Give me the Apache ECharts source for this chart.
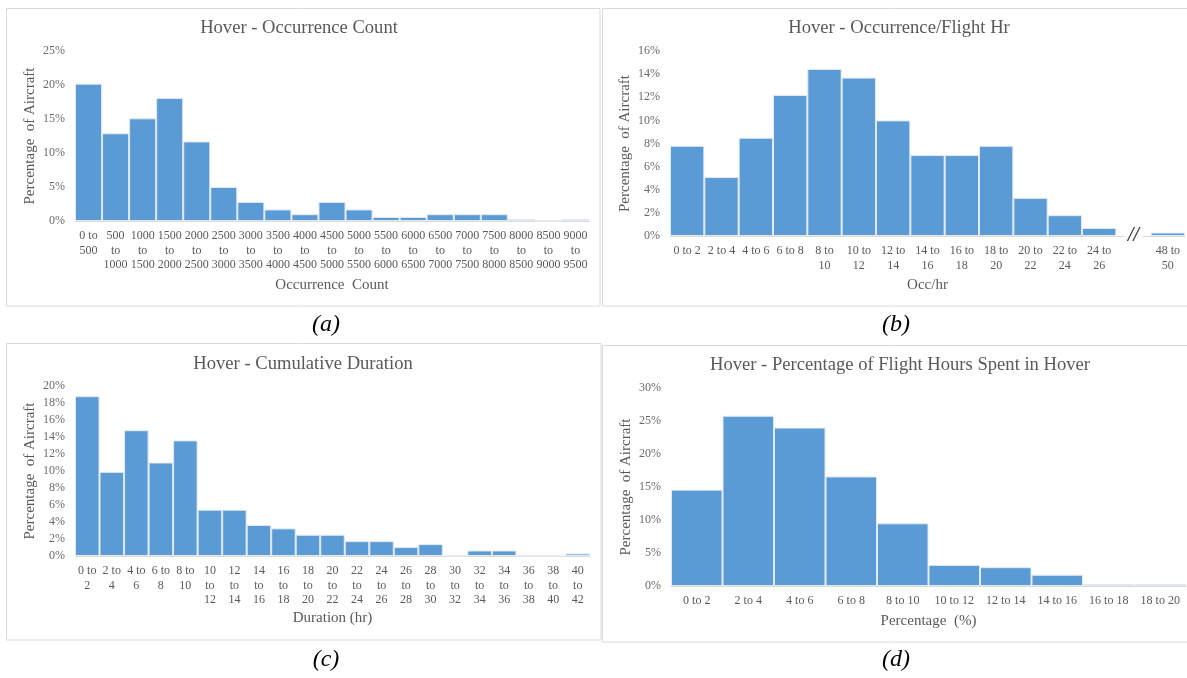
<!DOCTYPE html>
<html>
<head>
<meta charset="utf-8">
<script src="https://cdn.jsdelivr.net/npm/echarts@6/dist/echarts.min.js"></script>
<style>
  html, body { margin: 0; padding: 0; background: #fff; }
  #chart { width: 1187px; height: 678px; }
</style>
</head>
<body>
<div id="chart"></div>
<script>
// (a) occurrence count
var occCountCats = ['0 to\n500', '500\nto\n1000', '1000\nto\n1500', '1500\nto\n2000', '2000\nto\n2500',
  '2500\nto\n3000', '3000\nto\n3500', '3500\nto\n4000', '4000\nto\n4500', '4500\nto\n5000',
  '5000\nto\n5500', '5500\nto\n6000', '6000\nto\n6500', '6500\nto\n7000', '7000\nto\n7500',
  '7500\nto\n8000', '8000\nto\n8500', '8500\nto\n9000', '9000\nto\n9500'];
var occCountVals = [20.2, 12.9, 15.1, 18.1, 11.7, 5.0, 2.8, 1.7, 1.0, 2.8, 1.7, 0.6, 0.6, 1.0, 1.0, 1.0, 0.3, 0, 0.3];

// (b) occurrence per flight hour ('' = axis break slot)
var occRateCats = ['0 to 2', '2 to 4', '4 to 6', '6 to 8', '8 to\n10', '10 to\n12', '12 to\n14', '14 to\n16',
  '16 to\n18', '18 to\n20', '20 to\n22', '22 to\n24', '24 to\n26', '', '48 to\n50'];
var occRateVals = [7.8, 5.1, 8.5, 12.2, 14.45, 13.7, 10.0, 7.0, 7.0, 7.8, 3.3, 1.8, 0.7, '-', 0.3];
var breakSlot = 13;

// (c) cumulative duration
var durCats = ['0 to\n2', '2 to\n4', '4 to\n6', '6 to\n8', '8 to\n10', '10\nto\n12', '12\nto\n14', '14\nto\n16',
  '16\nto\n18', '18\nto\n20', '20\nto\n22', '22\nto\n24', '24\nto\n26', '26\nto\n28', '28\nto\n30',
  '30\nto\n32', '32\nto\n34', '34\nto\n36', '36\nto\n38', '38\nto\n40', '40\nto\n42'];
var durVals = [18.8, 9.9, 14.8, 11.0, 13.6, 5.45, 5.45, 3.65, 3.25, 2.5, 2.5, 1.75, 1.75, 1.05, 1.4, 0, 0.65, 0.65, 0, 0, 0.3];

// (d) percentage of flight hours in hover
var pctCats = ['0 to 2', '2 to 4', '4 to 6', '6 to 8', '8 to 10', '10 to 12', '12 to 14', '14 to 16', '16 to 18', '18 to 20'];
var pctVals = [14.6, 25.8, 24.0, 16.6, 9.5, 3.2, 2.85, 1.7, 0.25, 0.25];

var titles = ['Hover - Occurrence Count', 'Hover - Occurrence/Flight Hr', 'Hover - Cumulative Duration',
  'Hover - Percentage of Flight Hours Spent in Hover'];
var xNames = ['Occurrence  Count', 'Occ/hr', 'Duration (hr)', 'Percentage  (%)'];
var captions = ['(a)', '(b)', '(c)', '(d)'];

var FONT = '"Liberation Serif", "Times New Roman", serif';
var TXT = '#595959';
var BAR = '#5b9bd5';

var myChart = echarts.init(document.getElementById('chart'));

function xAxisOf(idx, cats, nameGap) {
  return {
    type: 'category',
    gridIndex: idx,
    data: cats,
    name: xNames[idx],
    nameLocation: 'middle',
    nameGap: nameGap,
    nameTextStyle: { fontFamily: FONT, fontSize: 15, color: TXT },
    axisTick: { show: false },
    axisLine: { show: true, lineStyle: { color: '#d9d9d9', width: 1 } },
    axisLabel: {
      interval: 0,
      margin: 8,
      fontFamily: FONT,
      fontSize: 12,
      lineHeight: 14.5,
      color: TXT
    }
  }
}

function yAxisOf(idx, max, step) {
  return {
    type: 'value',
    gridIndex: idx,
    min: 0,
    max: max,
    interval: step,
    name: 'Percentage  of Aircraft',
    nameLocation: 'middle',
    nameGap: 37,
    nameTextStyle: { fontFamily: FONT, fontSize: 15, color: TXT },
    splitLine: { show: false },
    axisLine: { show: false },
    axisTick: { show: false },
    axisLabel: {
      margin: 10,
      fontFamily: FONT,
      fontSize: 12,
      color: '#6a6a6a',
      formatter: '{value}%'
    }
  }
}

function barsOf(idx, vals) {
  return {
    type: 'bar',
    xAxisIndex: idx,
    yAxisIndex: idx,
    data: vals,
    barCategoryGap: 0,
    itemStyle: { color: BAR, borderColor: '#e3e9f0', borderWidth: 1 }
  }
}

var centers = [[299, 19], [899, 19], [303, 355], [900, 356]];
var capPos = [[326, 325], [896, 325], [326, 660], [896, 660]];

var breakSeries = barsOf(1, occRateVals);
breakSeries.markPoint = {
  symbol: 'rect',
  symbolSize: [18, 8],
  itemStyle: { color: '#ffffff' },
  data: [{ coord: [breakSlot, 0], value: 0 }],
  label: {
    show: true,
    formatter: '//',
    position: 'inside',
    fontFamily: FONT,
    fontSize: 20,
    fontWeight: 'bold',
    fontStyle: 'italic',
    color: '#404040'
  }
};

myChart.setOption({
  animation: false,
  title: titles.map(function (t, i) {
    return {
      text: t,
      left: centers[i][0],
      top: centers[i][1],
      textAlign: 'center',
      padding: 0,
      textStyle: { fontFamily: FONT, fontSize: 18.6, fontWeight: 'normal', color: TXT }
    }
  }),
  grid: [
    { left: 75, right: 598, top: 51, bottom: 457 },
    { left: 670, right: 2, top: 51, bottom: 442 },
    { left: 75, right: 597, top: 386, bottom: 122 },
    { left: 671, right: 1, top: 388, bottom: 92 }
  ],
  xAxis: [
    xAxisOf(0, occCountCats, 57),
    xAxisOf(1, occRateCats, 42),
    xAxisOf(2, durCats, 55),
    xAxisOf(3, pctCats, 28)
  ],
  yAxis: [
    yAxisOf(0, 25, 5),
    yAxisOf(1, 16, 2),
    yAxisOf(2, 20, 2),
    yAxisOf(3, 30, 5)
  ],
  series: [
    barsOf(0, occCountVals),
    breakSeries,
    barsOf(2, durVals),
    barsOf(3, pctVals)
  ],
  graphic: [
    { type: 'rect', shape: { x: 6.5, y: 8.5, width: 593.5, height: 297.5 }, style: { fill: 'none', stroke: '#d9d9d9', lineWidth: 1 }, z: -1 },
    { type: 'rect', shape: { x: 602.5, y: 8.5, width: 600, height: 297.5 }, style: { fill: 'none', stroke: '#d9d9d9', lineWidth: 1 }, z: -1 },
    { type: 'rect', shape: { x: 6.5, y: 343.5, width: 594.5, height: 296.5 }, style: { fill: 'none', stroke: '#d9d9d9', lineWidth: 1 }, z: -1 },
    { type: 'rect', shape: { x: 602.5, y: 345.5, width: 600, height: 296.5 }, style: { fill: 'none', stroke: '#d9d9d9', lineWidth: 1 }, z: -1 }
  ].concat(captions.map(function (c, i) {
    return {
      type: 'text',
      x: capPos[i][0],
      y: capPos[i][1],
      style: {
        text: c,
        fontFamily: FONT,
        fontSize: 24,
        fontStyle: 'italic',
        fill: '#000',
        align: 'center',
        verticalAlign: 'middle'
      }
    }
  }))
});
</script>
</body>
</html>
